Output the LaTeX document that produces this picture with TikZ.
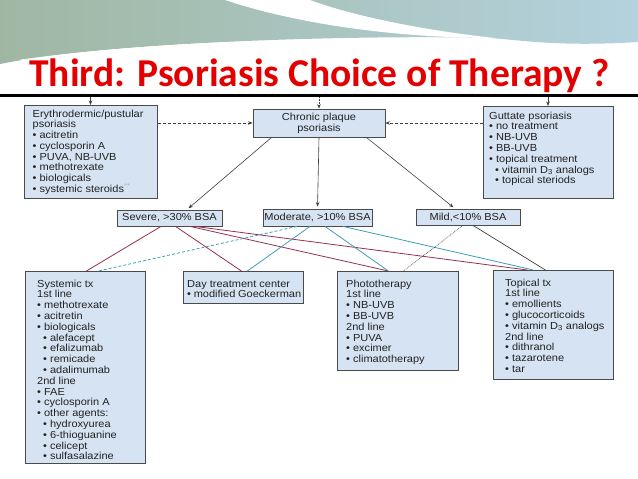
\documentclass[tikz,border=0pt]{standalone}
\usepackage{fontspec}
\setmainfont{Liberation Sans}
\newfontfamily\titlefont{Carlito}
\newfontfamily\boxfont[FakeStretch=1.08]{Liberation Sans}
\usetikzlibrary{arrows.meta}
\definecolor{boxfill}{HTML}{D6E3F3}
\definecolor{boxedge}{HTML}{4A4A4A}
\definecolor{txt}{HTML}{222222}
\definecolor{mar}{HTML}{97304F}
\definecolor{cya}{HTML}{3E9EBB}
\definecolor{dk}{HTML}{404040}
\definecolor{titlered}{HTML}{E30000}
\definecolor{bgA}{HTML}{9FB7A2}
\definecolor{bgB}{HTML}{B4D2DE}
\newcommand\bl{\textbullet\ }
\newcommand\sbl{\hspace*{6pt}\textbullet\ }
\tikzset{
  box/.style={draw=boxedge, fill=boxfill, line width=0.8pt, inner sep=0pt, rectangle, text=txt,
    font=\boxfont\fontsize{10.2}{10.8}\selectfont},
  boxtext/.style={anchor=base west, inner sep=0pt, text=txt, font=\boxfont\fontsize{10.2}{10.8}\selectfont},
  arr/.style={-{Stealth[length=4.5pt,width=3.5pt]}, line width=0.6pt, draw=dk},
  marline/.style={draw=mar, line width=0.8pt},
  cyaline/.style={draw=cya, line width=0.8pt},
  dkline/.style={draw=dk, line width=0.7pt},
}
\begin{document}
\begin{tikzpicture}[x=1pt,y=-1pt]
\useasboundingbox (0,0) rectangle (638,479);
\fill[white] (0,0) rectangle (638,479);
% decoration
\shade[left color=bgA, right color=bgB] (0,0) -- (638,0) -- (638,42) .. controls (560,47) and (520,40) .. (490,38) .. controls (380,35) and (120,40) .. (0,64) -- cycle;
\fill[white] (225,0) .. controls (300,25) and (400,38) .. (495,38) .. controls (420,30) and (350,15) .. (310,0) -- cycle;
\draw[white, line width=0.6pt] (20,60) .. controls (150,42) and (300,38) .. (470,40);
% title
\node[font=\titlefont\bfseries\fontsize{39.5}{42}\selectfont, text=titlered, anchor=base, inner sep=0pt] (title) at (319.5,86) {Third: Psoriasis Choice of Therapy ?};
\coordinate (rl) at (0,95.5);
\coordinate (rr) at (638,95.5);
\draw[line width=2.6pt] (rl) -- (rr);
% boxes
\node[box, anchor=north west, minimum width=133pt, minimum height=93pt] (ery) at (24,105) {};
\node[boxtext] (eryt) at (32.5,117) {\parbox[t]{125pt}{Erythrodermic/pustular\\psoriasis\\\bl acitretin\\\bl cyclosporin A\\\bl PUVA, NB-UVB\\\bl methotrexate\\\bl biologicals\\\bl systemic steroids\textcolor{gray!60}{\textsuperscript{**}}}};
\node[box, minimum width=132pt, minimum height=28pt, align=center] (chr) at (319,123) {Chronic plaque\\psoriasis};
\node[box, anchor=north west, minimum width=130pt, minimum height=92pt] (gut) at (483,106) {};
\node[boxtext] (gutt) at (489,119) {\parbox[t]{122pt}{Guttate psoriasis\\\bl no treatment\\\bl NB-UVB\\\bl BB-UVB\\\bl topical treatment\\\sbl vitamin D\textsubscript{3} analogs\\\sbl topical steriods}};
\node[box, minimum width=105pt, minimum height=16pt] (sev) at (169.5,218) {Severe, >30\% BSA};
\node[box, minimum width=109pt, minimum height=17pt] (mod) at (317.5,217.5) {Moderate, >10\% BSA};
\node[box, minimum width=104pt, minimum height=16pt] (mild) at (468,217) {Mild,<10\% BSA};
\node[box, anchor=north west, minimum width=120pt, minimum height=192pt] (sys) at (25,271) {};
\node[boxtext] (syst) at (37,287) {\parbox[t]{105pt}{Systemic tx\\1st line\\\bl methotrexate\\\bl acitretin\\\bl biologicals\\\sbl alefacept\\\sbl efalizumab\\\sbl remicade\\\sbl adalimumab\\2nd line\\\bl FAE\\\bl cyclosporin A\\\bl other agents:\\\sbl hydroxyurea\\\sbl 6-thioguanine\\\sbl celicept\\\sbl sulfasalazine}};
\node[box, anchor=north west, minimum width=120pt, minimum height=32pt] (day) at (183,271) {};
\node[boxtext] (dayt) at (187,287) {\parbox[t]{114pt}{Day treatment center\\\bl modified Goeckerman}};
\node[box, anchor=north west, minimum width=121pt, minimum height=99pt] (pho) at (337,271) {};
\node[boxtext] (phot) at (346,287) {\parbox[t]{110pt}{Phototherapy\\1st line\\\bl NB-UVB\\\bl BB-UVB\\2nd line\\\bl PUVA\\\bl excimer\\\bl climatotherapy}};
\node[box, anchor=north west, minimum width=120pt, minimum height=109pt] (top) at (493,270) {};
\node[boxtext] (topt) at (505,286) {\parbox[t]{106pt}{Topical tx\\1st line\\\bl emollients\\\bl glucocorticoids\\\bl vitamin D\textsubscript{3} analogs\\2nd line\\\bl dithranol\\\bl tazarotene\\\bl tar}};
% top arrows
\coordinate (ta) at (90.5,97);
\coordinate (tb) at (319,97);
\coordinate (tc) at (548,97);
\draw[arr] (ta) -- (ta |- ery.north);
\draw[arr, densely dotted] (tb) -- (tb |- chr.north);
\draw[arr] (tc) -- (tc |- gut.north);
% side dashed arrows
\draw[arr, densely dashed] (ery.east |- chr.west) -- (chr.west);
\draw[arr, densely dashed] (gut.west |- chr.east) -- (chr.east);
% chronic to BSA
\draw[arr, shorten >=2pt] ([xshift=19pt]chr.south west) -- ([xshift=17.5pt]sev.north);
\draw[arr, shorten >=2pt] (chr.south) -- (mod.north);
\draw[arr, shorten >=2pt] ([xshift=-19pt]chr.south east) -- ([xshift=-13pt]mild.north);
% severe
\draw[marline] ([xshift=-8.5pt]sev.south) -- ([xshift=1pt]sys.north);
\draw[marline] ([xshift=6pt]sev.south) -- ([xshift=-2pt]day.north);
\draw[marline] ([xshift=20.5pt]sev.south) -- ([xshift=-9.5pt]pho.north);
\draw[marline] ([xshift=25.5pt]sev.south) -- ([xshift=-26pt]top.north);
% moderate
\draw[cyaline, densely dashed] ([xshift=-20.5pt]mod.south) -- ([xshift=13pt]sys.north);
\draw[cyaline] ([xshift=-7.5pt]mod.south) -- ([xshift=4pt]day.north);
\draw[cyaline] ([xshift=7.5pt]mod.south) -- ([xshift=-9.5pt]pho.north);
\draw[cyaline] ([xshift=25.5pt]mod.south) -- ([xshift=-20pt]top.north);
% mild
\draw[dkline, densely dotted] ([xshift=-5pt]mild.south) -- ([xshift=5.5pt]pho.north);
\draw[dkline] ([xshift=5pt]mild.south) -- ([xshift=-8pt]top.north);
\end{tikzpicture}
\end{document}
